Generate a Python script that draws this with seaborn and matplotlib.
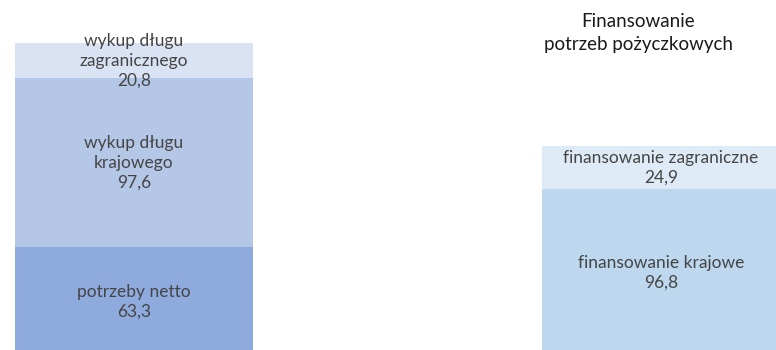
import matplotlib
matplotlib.use("Agg")
import matplotlib.pyplot as plt
import seaborn as sns
import pandas as pd

categories = ["Potrzeby", "Finansowanie"]
segments_left = ["potrzeby netto", "wykup długu\nkrajowego", "wykup długu\nzagranicznego"]
values_left = [63.3, 97.6, 20.8]
colors_left = ["#8FAADC", "#B4C7E7", "#DAE3F3"]
segments_right = ["finansowanie krajowe", "finansowanie zagraniczne"]
values_right = [96.8, 24.9]
colors_right = ["#BDD7EE", "#DEEBF7"]
title = "Finansowanie\npotrzeb pożyczkowych"

sns.set_theme(style="white")
plt.rcParams["font.family"] = ["Lato", "DejaVu Sans"]

fig = plt.figure(figsize=(7.76, 3.5), dpi=100)
ax = fig.add_axes([0, 0, 1, 1])

bar_w = 0.452
rows = []
for cat, segs, vals, cols in [(categories[0], segments_left, values_left, colors_left),
                              (categories[1], segments_right, values_right, colors_right)]:
    b = 0.0
    for s, v, c in zip(segs, vals, cols):
        rows.append(dict(cat=cat, seg=s, val=v, bottom=b, color=c))
        b += v
df = pd.DataFrame(rows)

for _, r in df.iterrows():
    sns.barplot(x=[r["cat"]], y=[r["val"]], order=categories, bottom=r["bottom"],
                color=r["color"], width=bar_w, saturation=1, ax=ax, linewidth=0)
    xi = categories.index(r["cat"])
    lbl = f"{r['seg']}\n{r['val']:.1f}".replace(".", ",")
    ax.text(xi, r["bottom"] + r["val"] / 2, lbl, ha="center", va="center",
            fontsize=12.5, color="#454545", linespacing=1.28)

ax.set_xlim(-0.254, 1.218)
ax.set_ylim(3.5, 206.4)
ax.axis("off")

fig.text(638 / 776, 1 - 33 / 350, title, ha="center", va="center",
         fontsize=13.5, color="#1a1a1a", linespacing=1.45)

fig.savefig("out.png", dpi=100)
